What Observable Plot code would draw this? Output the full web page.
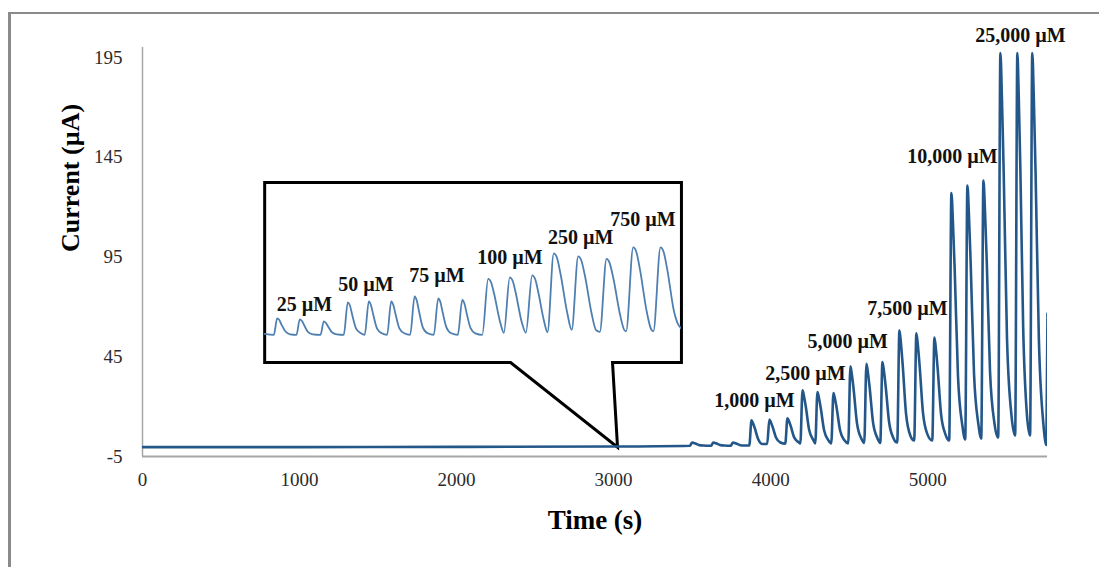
<!DOCTYPE html>
<html>
<head>
<meta charset="utf-8">
<script src="https://cdn.jsdelivr.net/npm/d3@7"></script>
<script src="https://cdn.jsdelivr.net/npm/@observablehq/plot@0.6"></script>
<style>
  html, body { margin: 0; padding: 0; background: #fff; overflow: hidden; }
  #wrap { position: relative; width: 1099px; height: 567px; }
  #main { position: absolute; left: 0; top: 0; }
  #inset { position: absolute; left: 264px; top: 182px; width: 417px; height: 180px; }
  #frame { position: absolute; left: 8px; top: 12px; width: 1200px; height: 700px;
           border-top: 2px solid #8a8a8a; border-left: 3px solid #8a8a8a; pointer-events: none; }
</style>
</head>
<body>
<div id="wrap">
  <div id="main"></div>
  <div id="inset"></div>
  <div id="frame"></div>
</div>
<script>
// ---- Data ----
const xTicks = [0, 1000, 2000, 3000, 4000, 5000];
const yTicks = [-5, 45, 95, 145, 195];

// Main amperometric trace: [time (s), current (µA)]
const mainTrace = [
  [0,-0.3],[1000,-0.3],[2000,-0.2],[3000,0.0],[3486,0.4],
  [3500,2.0],[3510,1.8],[3521,1.5],[3542,0.8],[3570,0.5],
  [3621,0.4],[3635,2.0],[3645,1.8],[3656,1.5],[3677,0.8],[3705,0.5],
  [3746,0.4],[3760,2.0],[3770,1.8],[3781,1.5],[3802,0.8],[3830,0.5],
  [3864,0.5],[3878,13.1],[3888,11.6],[3899,9.2],[3920,3.8],[3948,1.3],
  [3978,1.3],[3992,13.5],[4002,12.0],[4013,9.7],[4034,4.5],[4062,2.0],
  [4093,1.4],[4107,14.2],[4117,12.7],[4128,10.2],[4149,4.7],[4177,2.2],
  [4189,1.5],[4203,28.2],[4213,25.0],[4224,19.9],[4245,8.4],[4273,3.1],
  [4284,1.6],[4298,27.3],[4308,24.2],[4319,19.3],[4340,8.3],[4368,3.1],
  [4386,1.6],[4400,26.8],[4410,23.8],[4421,19.0],[4442,8.2],[4470,3.1],
  [4494,1.6],[4508,40.2],[4518,35.6],[4529,28.2],[4550,11.6],[4578,3.9],
  [4596,1.8],[4610,41.5],[4620,36.7],[4631,29.2],[4652,12.1],[4680,4.2],
  [4698,1.8],[4712,42.4],[4722,37.5],[4733,29.8],[4754,12.4],[4782,4.2],
  [4806,2.0],[4820,58.3],[4830,51.5],[4841,40.8],[4862,16.6],[4890,5.4],
  [4914,3.0],[4928,56.7],[4938,50.3],[4949,40.1],[4970,17.0],[4998,6.2],
  [5029,3.0],[5043,54.6],[5053,48.4],[5064,38.6],[5085,16.4],[5113,6.1],
  [5137,3.0],[5151,127.0],[5161,112.0],[5172,88.6],[5193,35.2],[5221,10.4],
  [5239,3.5],[5253,130.8],[5263,115.5],[5274,91.3],[5295,36.6],[5323,11.1],
  [5341,4.0],[5355,133.3],[5365,117.8],[5376,93.2],[5397,37.6],[5425,11.8],
  [5449,4.5],[5463,197.2],[5473,174.0],[5484,137.5],[5505,54.6],[5533,16.1],
  [5557,5.5],[5571,197.2],[5580,175.0],[5590,140.0],[5608,60.0],[5632,16.0],
  [5652,5.5],[5666,197.2],[5676,174.0],[5687,137.5],[5708,54.0],[5736,12.0],
  [5752,1.5],[5756,0.8],[5763,66.7]
];

// Inset (zoomed low-concentration region): [time (s), current (µA)]
const insetTrace = [
  [1693,0.02],[1739,0.0],[1755,0.33],[1765,0.30],[1777,0.20],[1795,0.07],[1819,0.01],
  [1850,0.0],[1866,0.31],[1876,0.28],[1888,0.19],[1906,0.06],[1930,0.01],
  [1968,0.0],[1984,0.27],[1994,0.24],[2006,0.16],[2024,0.05],[2048,0.01],
  [2082,0.0],[2102,0.65],[2112,0.59],[2124,0.39],[2142,0.13],[2166,0.03],
  [2185,0.0],[2205,0.67],[2215,0.60],[2227,0.40],[2245,0.13],[2269,0.03],
  [2295,0.0],[2315,0.67],[2325,0.60],[2337,0.40],[2355,0.13],[2379,0.03],
  [2408,0.0],[2430,0.77],[2440,0.69],[2452,0.46],[2470,0.15],[2494,0.03],
  [2524,0.0],[2546,0.73],[2556,0.66],[2568,0.44],[2586,0.15],[2610,0.03],
  [2642,0.0],[2664,0.70],[2674,0.63],[2686,0.42],[2704,0.14],[2728,0.03],
  [2762,0.0],[2791,1.12],[2806,1.04],[2819,0.84],[2850,0.25],
  [2868,0.04],[2897,1.15],[2912,1.07],[2925,0.86],[2956,0.25],
  [2976,0.04],[3007,1.19],[3022,1.11],[3035,0.89],[3066,0.26],
  [3082,0.05],[3113,1.63],[3128,1.55],[3146,1.22],[3179,0.44],
  [3201,0.10],[3233,1.57],[3248,1.49],[3266,1.18],[3299,0.42],[3321,0.09],
  [3339,0.06],[3372,1.52],[3387,1.44],[3405,1.14],[3438,0.41],[3460,0.09],
  [3468,0.07],[3503,1.75],[3518,1.66],[3536,1.31],[3569,0.47],[3591,0.11],
  [3602,0.07],[3637,1.75],[3652,1.66],[3670,1.31],[3703,0.47],[3719,0.25],[3740,0.12]
];
const insetTimeDomain = [1693, 3740];
const insetCurrentDomain = [-0.554, 3.046];

const mainLabels = ["1,000 µM", "2,500 µM", "5,000 µM", "7,500 µM", "10,000 µM", "25,000 µM"];
const mainLabelTime = [3897, 4222, 4490, 4871, 5157, 5590];
const mainLabelCurrent = [23.1, 36.4, 52.4, 68.9, 145.4, 206.0];

const insetLabels = ["25 µM", "50 µM", "75 µM", "100 µM", "250 µM", "750 µM"];
const insetLabelTime = [1889, 2191, 2540, 2898, 3245, 3551];
const insetLabelCurrent = [0.60, 1.00, 1.18, 1.54, 1.94, 2.30];

// Callout box outline in main-chart data coordinates
const calloutTime = [2000, 3432, 3432, 2993, 3025, 2344, 778, 778, 2000];
const calloutCurrent = [132.3, 132.3, 42.1, 42.1, -0.34, 42.1, 42.1, 132.3, 132.3];

// ---- Rendering ----
const serif = "'Liberation Serif', 'Times New Roman', Times, serif";
const traceColor = "#245789";
const insetColor = "#4f7fb0";

const main = Plot.plot({
  width: 1099,
  height: 567,
  marginLeft: 142,
  marginRight: 52,
  marginTop: 47,
  marginBottom: 111,
  style: { fontFamily: serif, background: "#fff", color: "#000" },
  x: { domain: [0, 5763] },
  y: { domain: [-5, 200] },
  marks: [
    Plot.axisY({ ticks: yTicks, tickSize: 0, tickPadding: 20, fontSize: 19, tickFormat: d => String(d), label: null, fill: "#2b2b2b" }),
    Plot.axisX({ ticks: xTicks, tickSize: 0, tickPadding: 16, fontSize: 19, tickFormat: d => String(d), label: null, fill: "#2b2b2b" }),
    Plot.ruleX([0], { stroke: "#a6a6a6", strokeWidth: 1.5 }),
    Plot.ruleY([-5], { stroke: "#a6a6a6", strokeWidth: 2 }),
    Plot.line(calloutTime.map((t, i) => [t, calloutCurrent[i]]), {
      x: d => d[0], y: d => d[1], fill: "#fff", stroke: "#000", strokeWidth: 3,
      strokeLinejoin: "miter", strokeMiterlimit: 4, curve: "linear"
    }),
    Plot.line(mainTrace, {
      x: d => d[0], y: d => d[1], curve: "monotone-x", stroke: traceColor, strokeWidth: 2.6, clip: true
    }),
    Plot.text(mainLabels, {
      x: (d, i) => mainLabelTime[i], y: (d, i) => mainLabelCurrent[i], text: d => d,
      fontSize: 20, fontWeight: "bold", fill: "#111", lineAnchor: "middle", textAnchor: "middle"
    }),
    Plot.text(["Time (s)"], { text: d => d, frameAnchor: "bottom", dy: 72, fontSize: 27, fontWeight: "bold", fill: "#000" }),
    Plot.text(["Current (µA)"], { text: d => d, frameAnchor: "left", dx: -72, rotate: -90, fontSize: 26, fontWeight: "bold", fill: "#000" })
  ]
});
document.getElementById("main").appendChild(main);

const inset = Plot.plot({
  width: 417,
  height: 180,
  margin: 0,
  style: { fontFamily: serif, background: "none", overflow: "visible" },
  x: { domain: insetTimeDomain, axis: null },
  y: { domain: insetCurrentDomain, axis: null },
  marks: [
    Plot.line(insetTrace, {
      x: d => d[0], y: d => d[1], curve: "monotone-x", stroke: insetColor, strokeWidth: 1.8, clip: true
    }),
    Plot.text(insetLabels, {
      x: (d, i) => insetLabelTime[i], y: (d, i) => insetLabelCurrent[i], text: d => d,
      fontSize: 20, fontWeight: "bold", fill: "#111", lineAnchor: "middle", textAnchor: "middle"
    })
  ]
});
document.getElementById("inset").appendChild(inset);
</script>
</body>
</html>
